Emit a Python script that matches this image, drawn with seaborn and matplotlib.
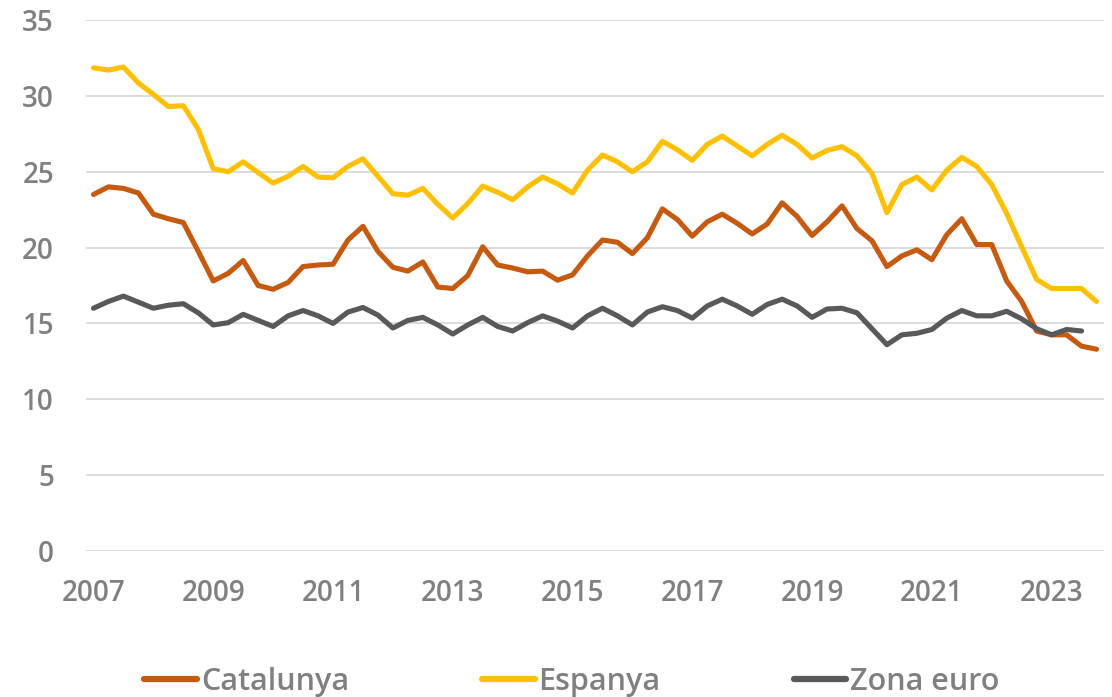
import numpy as np
import pandas as pd
import matplotlib
matplotlib.use("Agg")
import matplotlib.pyplot as plt
import seaborn as sns

# Quarterly data, 2007Q1 onwards
catalunya = [23.5, 24.0, 23.9, 23.6, 22.2, 21.9, 21.65, 19.75, 17.8, 18.3,
             19.15, 17.5, 17.25, 17.7, 18.75, 18.85, 18.9, 20.5, 21.4, 19.75,
             18.7, 18.45, 19.05, 17.4, 17.3, 18.15, 20.05, 18.85, 18.65, 18.4,
             18.45, 17.85, 18.2, 19.45, 20.5, 20.35, 19.6, 20.65, 22.55, 21.85,
             20.75, 21.7, 22.2, 21.6, 20.9, 21.55, 22.95, 22.05, 20.8, 21.7,
             22.75, 21.25, 20.45, 18.75, 19.45, 19.85, 19.2, 20.85, 21.9, 20.2,
             20.2, 17.8, 16.45, 14.5, 14.25, 14.25, 13.5, 13.3]
espanya = [31.85, 31.7, 31.9, 30.85, 30.1, 29.3, 29.35, 27.8, 25.2, 25.0,
           25.65, 24.95, 24.25, 24.7, 25.35, 24.65, 24.6, 25.35, 25.85, 24.7,
           23.55, 23.45, 23.9, 22.85, 21.95, 22.9, 24.05, 23.65, 23.15, 24.0,
           24.65, 24.2, 23.6, 25.1, 26.1, 25.65, 25.0, 25.65, 27.0, 26.45,
           25.75, 26.8, 27.35, 26.7, 26.05, 26.8, 27.4, 26.8, 25.9, 26.4,
           26.65, 26.05, 24.9, 22.3, 24.15, 24.65, 23.8, 25.1, 25.95, 25.35,
           24.15, 22.25, 20.05, 17.9, 17.3, 17.3, 17.3, 16.45]
zona_euro = [16.0, 16.45, 16.8, 16.4, 16.0, 16.2, 16.3, 15.7, 14.9, 15.05,
             15.6, 15.2, 14.8, 15.5, 15.85, 15.5, 15.0, 15.75, 16.05, 15.55,
             14.7, 15.2, 15.4, 14.9, 14.3, 14.9, 15.4, 14.8, 14.5, 15.05,
             15.5, 15.15, 14.7, 15.5, 16.0, 15.5, 14.9, 15.75, 16.1, 15.85,
             15.35, 16.15, 16.6, 16.15, 15.6, 16.25, 16.6, 16.15, 15.4, 15.95,
             16.0, 15.7, 14.65, 13.6, 14.25, 14.35, 14.6, 15.35, 15.85, 15.5,
             15.5, 15.8, 15.3, 14.65, 14.25, 14.6, 14.5]
series_names = ["Catalunya", "Espanya", "Zona euro"]
colors = ["#C55A11", "#FFC000", "#595959"]
year_ticks = [2007, 2009, 2011, 2013, 2015, 2017, 2019, 2021, 2023]
y_ticks = [0, 5, 10, 15, 20, 25, 30, 35]

frames = []
for name, vals in zip(series_names, [catalunya, espanya, zona_euro]):
    t = 2007 + np.arange(len(vals)) / 4.0
    frames.append(pd.DataFrame({"t": t, "valor": vals, "serie": name}))
df = pd.concat(frames, ignore_index=True)

sns.set_theme(style="white")
plt.rcParams["font.family"] = ["Open Sans", "DejaVu Sans"]

W, H = 1112, 697
fig = plt.figure(figsize=(W / 100, H / 100), dpi=100)
left, right, bottom, top = 86, 1104, 551, 20
ax = fig.add_axes([left / W, 1 - bottom / H, (right - left) / W, (bottom - top) / H])

sns.lineplot(data=df, x="t", y="valor", hue="serie", hue_order=series_names,
             palette=colors, linewidth=3.7, ax=ax, sort=True,
             solid_capstyle="round", solid_joinstyle="round")

ax.set_xlim(2007 - 0.125, 2007 + 67 / 4 + 0.125)
ax.set_ylim(0, 35)
ax.set_yticks(y_ticks)
ax.set_xticks(year_ticks)
ax.set_xticklabels([str(y) for y in year_ticks])
ax.yaxis.grid(True, color="#D9D9D9", linewidth=1.3)
ax.xaxis.grid(False)
ax.set_axisbelow(True)
for s in ax.spines.values():
    s.set_visible(False)
ax.set_xlabel("")
ax.set_ylabel("")
tick_color = "#808080"
ax.tick_params(axis="y", length=0, pad=23, labelsize=20, labelcolor=tick_color)
ax.tick_params(axis="x", length=0, pad=20, labelsize=20, labelcolor=tick_color)
for lab in ax.get_xticklabels() + ax.get_yticklabels():
    lab.set_fontweight("semibold")

handles, labels = ax.get_legend_handles_labels()
ax.get_legend().remove()
leg = fig.legend(handles, labels, loc="center", bbox_to_anchor=(572 / W, 1 - 682 / H),
                 ncol=3, frameon=False, handlelength=1.72,
                 handletextpad=0.13, columnspacing=4.35,
                 prop={"size": 22, "weight": "semibold"})
for txt in leg.get_texts():
    txt.set_color(tick_color)
for ln in leg.get_lines():
    ln.set_linewidth(4.5)
    ln.set_solid_capstyle("round")

fig.savefig("out.png", dpi=100)
